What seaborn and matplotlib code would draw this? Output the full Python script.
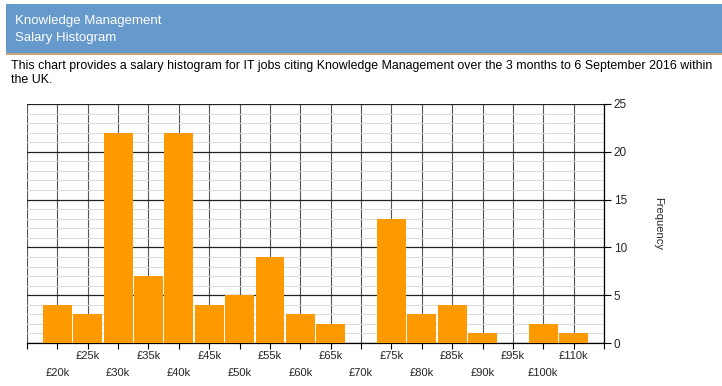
import matplotlib
matplotlib.use("Agg")
import matplotlib.pyplot as plt
import seaborn as sns
from matplotlib.patches import Rectangle
from matplotlib.ticker import MultipleLocator

salary_bins = ["£20k", "£25k", "£30k", "£35k", "£40k", "£45k", "£50k", "£55k", "£60k",
               "£65k", "£70k", "£75k", "£80k", "£85k", "£90k", "£95k", "£100k", "£110k"]
frequency = [4, 3, 22, 7, 22, 4, 5, 9, 3, 2, 0, 13, 3, 4, 1, 0, 2, 1]

sns.set_theme(style="white")
plt.rcParams['font.family'] = ['Liberation Sans', 'DejaVu Sans']

W, H = 722, 386
fig = plt.figure(figsize=(W / 100, H / 100), dpi=100)

# header band
fig.patches.append(Rectangle((6 / W, 1 - 53 / H), 1, 49 / H, transform=fig.transFigure,
                             facecolor="#6699CC", edgecolor="none", zorder=0))
fig.patches.append(Rectangle((6 / W, 1 - 55 / H), 1, 2 / H, transform=fig.transFigure,
                             facecolor="#C8A878", edgecolor="none", zorder=0))
fig.text(15 / W, 1 - 21 / H, "Knowledge Management", color="white", fontsize=9.5, va="center")
fig.text(15 / W, 1 - 38 / H, "Salary Histogram", color="white", fontsize=9.5, va="center")
fig.text(11 / W, 1 - 66 / H,
         "This chart provides a salary histogram for IT jobs citing Knowledge Management "
         "over the 3 months to 6 September 2016 within", fontsize=8.9, va="center", color="black")
fig.text(11 / W, 1 - 80 / H, "the UK.", fontsize=8.9, va="center", color="black")

ax = fig.add_axes([27 / W, 1 - 343 / H, (604 - 27) / W, (343 - 104) / H])
sns.barplot(x=salary_bins, y=frequency, color="#FF9900", saturation=1, width=0.95,
            edgecolor="none", ax=ax, zorder=3)

ax.set_xlim(-1, 18)
ax.set_ylim(0, 25)

# staggered x labels: odd ones on top row, even ones on lower row
n = len(salary_bins)
odd = list(range(1, n, 2))
even = list(range(0, n, 2))
ax.set_xticks([-1] + odd + [18])
ax.set_xticklabels([""] + [salary_bins[i] for i in odd] + [""])
ax.set_xticks(even, minor=True)
ax.set_xticklabels([salary_bins[i] for i in even], minor=True)
ax.tick_params(axis="x", which="major", direction="out", length=4, width=0.8,
               color="black", labelsize=8, pad=2, bottom=True)
ax.tick_params(axis="x", which="minor", direction="out", length=4, width=0.8,
               color="black", labelsize=8, pad=14, bottom=True)

ax.yaxis.tick_right()
ax.yaxis.set_label_position("right")
ax.yaxis.set_major_locator(MultipleLocator(5))
ax.yaxis.set_minor_locator(MultipleLocator(1))
ax.tick_params(axis="y", which="major", direction="out", length=5, width=0.8,
               color="black", labelsize=8.5, pad=2, right=True)
ax.tick_params(axis="y", which="minor", length=0)
ax.set_ylabel("Frequency", rotation=270, fontsize=8, labelpad=26)
ax.set_xlabel("")

ax.grid(axis="y", which="minor", color="#DDDDDD", linewidth=0.8, zorder=0)
ax.grid(axis="y", which="major", color="#222222", linewidth=0.9, zorder=1)
ax.grid(axis="x", which="both", color="#555555", linewidth=0.8, zorder=1)
ax.set_axisbelow(True)

for side in ["left", "top"]:
    ax.spines[side].set_visible(False)
ax.spines["right"].set_color("black")
ax.spines["bottom"].set_color("black")
ax.spines["right"].set_linewidth(0.9)
ax.spines["bottom"].set_linewidth(0.9)

fig.savefig("out.png", dpi=100)
